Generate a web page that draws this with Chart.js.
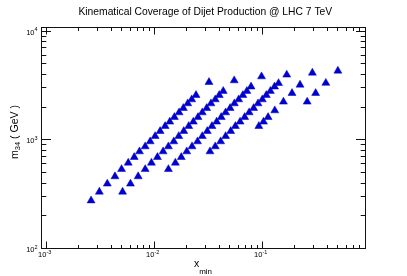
<!DOCTYPE html>
<html>
<head>
<meta charset="utf-8">
<script src="https://cdn.jsdelivr.net/npm/chart.js@4.4.1/dist/chart.umd.min.js"></script>
<style>
  html, body { margin: 0; padding: 0; background: #fff; }
  #wrap { width: 407px; height: 276px; }
</style>
</head>
<body>
<div id="wrap"><canvas id="chart" width="407" height="276"></canvas></div>
<script>
// chart text
const chartTitle = "Kinematical Coverage of Dijet Production @ LHC 7 TeV";
const xTitle = ["x", "min"];
const yTitle = ["m", "34", " ( GeV )"];

// axis decades and their exponents (tick labels)
const xDecades = [0.001, 0.01, 0.1];
const xExponents = ["-3", "-2", "-1"];
const yDecades = [100, 1000, 10000];
const yExponents = ["2", "3", "4"];

// series: x_min and dijet mass (GeV)
const xBin1 = [0.00259, 0.00309, 0.00366, 0.00431, 0.00496, 0.00572, 0.0065, 0.00727, 0.00821, 0.00913, 0.01015,
  0.01129, 0.01256, 0.01387, 0.0153, 0.01691, 0.01853, 0.02034, 0.02214, 0.02427, 0.032];
const mBin1 = [276, 332, 394, 460, 536, 614, 692, 780, 868, 965, 1079,
  1200, 1334, 1464, 1614, 1783, 1953, 2158, 2348, 2573, 3388];

const xBin2 = [0.00507, 0.006, 0.00707, 0.00821, 0.00938, 0.01066, 0.01203, 0.01347, 0.01511, 0.0168, 0.01869,
  0.02078, 0.02291, 0.02532, 0.02774, 0.03046, 0.03338, 0.03658, 0.03982, 0.04335, 0.05478];
const mBin2 = [332, 394, 460, 536, 614, 692, 780, 868, 965, 1079, 1200,
  1334, 1464, 1614, 1783, 1953, 2158, 2348, 2573, 2805, 3513];

const xBin3 = [0.01347, 0.01563, 0.01772, 0.01992, 0.02229, 0.02506, 0.02774, 0.03085, 0.03409, 0.03768,
  0.04155, 0.04563, 0.0502, 0.055, 0.06026, 0.0659, 0.07174, 0.07845, 0.09806];
const mBin3 = [536, 614, 692, 780, 868, 965, 1079, 1200, 1334, 1464,
  1614, 1783, 1953, 2158, 2348, 2573, 2805, 3080, 3823];

const xBin4 = [0.03268, 0.03658, 0.04102, 0.04563, 0.05085, 0.05618, 0.06209, 0.06847, 0.07534,
  0.08292, 0.09104, 0.09975, 0.1086, 0.1185, 0.1295, 0.141, 0.1679];
const mBin4 = [780, 868, 965, 1079, 1200, 1334, 1464, 1614, 1783,
  1953, 2158, 2348, 2573, 2805, 3080, 3316, 3963];

const xBin5 = [0.0926, 0.1023, 0.1128, 0.1301, 0.1565, 0.1879, 0.2228, 0.29];
const mBin5 = [1334, 1464, 1614, 1860, 2237, 2684, 3206, 4134];

const xBin6 = [0.2596, 0.3109, 0.3863, 0.4995];
const mBin6 = [2237, 2684, 3331, 4313];

const allX = [xBin1, xBin2, xBin3, xBin4, xBin5, xBin6];
const allM = [mBin1, mBin2, mBin3, mBin4, mBin5, mBin6];

const FONT = "'Liberation Sans', Arial, Helvetica, sans-serif";
const MARKER = "#0000cc";

function toPoints(xs, ms) {
  return xs.map((v, i) => ({ x: v, y: ms[i] }));
}

// minor ticks 2..9 inside each decade, kept within the axis range
function logTicks(min, max) {
  const out = [];
  for (let e = Math.floor(Math.log10(min)); e <= Math.ceil(Math.log10(max)); e++) {
    for (let k = 1; k <= 9; k++) {
      const v = k * Math.pow(10, e);
      if (v >= min * 0.9999 && v <= max * 1.0001) out.push({ v: v, major: k === 1 });
    }
  }
  return out;
}

// frame, inward ticks, labels and titles, drawn with the chart's scales
const rootFrame = {
  id: "rootFrame",
  afterDraw(chart) {
    const { ctx, chartArea: a, scales } = chart;
    const xs = scales.x, ys = scales.y;
    ctx.save();
    ctx.strokeStyle = "#111";
    ctx.lineWidth = 1;
    ctx.strokeRect(a.left, a.top, a.right - a.left, a.bottom - a.top);

    ctx.beginPath();
    logTicks(xs.min, xs.max).forEach(t => {
      const px = Math.round(xs.getPixelForValue(t.v) - 0.5) + 0.5;
      const len = t.major ? 7 : 3.5;
      ctx.moveTo(px, a.bottom); ctx.lineTo(px, a.bottom - len);
      ctx.moveTo(px, a.top); ctx.lineTo(px, a.top + len);
    });
    logTicks(ys.min, ys.max).forEach(t => {
      const py = Math.round(ys.getPixelForValue(t.v) - 0.5) + 0.5;
      const len = t.major ? 9.5 : 4.8;
      ctx.moveTo(a.left, py); ctx.lineTo(a.left + len, py);
      ctx.moveTo(a.right, py); ctx.lineTo(a.right - len, py);
    });
    ctx.stroke();

    ctx.fillStyle = "#000";
    // x tick labels 10^n
    xDecades.forEach((v, i) => {
      const px = xs.getPixelForValue(v);
      ctx.font = "7.5px " + FONT;
      ctx.textAlign = "right";
      ctx.fillText("10", px, 257);
      ctx.font = "5.5px " + FONT;
      ctx.textAlign = "left";
      ctx.fillText(xExponents[i], px, 253.5);
    });
    // y tick labels 10^n
    yDecades.forEach((v, i) => {
      const py = ys.getPixelForValue(v);
      ctx.font = "7.5px " + FONT;
      ctx.textAlign = "right";
      ctx.fillText("10", 34.5, py + 3.4);
      ctx.font = "5.5px " + FONT;
      ctx.textAlign = "left";
      ctx.fillText(yExponents[i], 34.5, py);
    });

    // main title
    ctx.font = "10.3px " + FONT;
    ctx.textAlign = "center";
    ctx.fillText(chartTitle, 205.3, 14.7);

    // x axis title with subscript
    ctx.textAlign = "left";
    ctx.font = "10.5px " + FONT;
    const wx = ctx.measureText(xTitle[0]).width;
    ctx.font = "8px " + FONT;
    const wsub = ctx.measureText(xTitle[1]).width;
    const x0 = 203 - (wx + wsub) / 2;
    ctx.font = "10.5px " + FONT;
    ctx.fillText(xTitle[0], x0, 267.3);
    ctx.font = "8px " + FONT;
    ctx.fillText(xTitle[1], x0 + wx, 273.5);

    // y axis title, rotated, with subscript
    ctx.save();
    ctx.translate(17.5, 132);
    ctx.rotate(-Math.PI / 2);
    ctx.font = "10.5px " + FONT;
    const wm = ctx.measureText(yTitle[0]).width;
    const wr = ctx.measureText(yTitle[2]).width;
    ctx.font = "7.5px " + FONT;
    const ws = ctx.measureText(yTitle[1]).width;
    let s = -(wm + ws + wr) / 2;
    ctx.font = "10.5px " + FONT;
    ctx.fillText(yTitle[0], s, 0);
    ctx.font = "7.5px " + FONT;
    ctx.fillText(yTitle[1], s + wm, 2.6);
    ctx.font = "10.5px " + FONT;
    ctx.fillText(yTitle[2], s + wm + ws, 0);
    ctx.restore();

    ctx.restore();
  }
};

const datasets = allX.map((xs, i) => ({
  label: "bin " + (i + 1),
  data: toPoints(xs, allM[i]),
  pointStyle: "triangle",
  pointRadius: 4.6,
  pointHoverRadius: 4.6,
  pointBackgroundColor: MARKER,
  pointBorderColor: MARKER,
  pointBorderWidth: 0.5,
  showLine: false
}));

new Chart(document.getElementById("chart").getContext("2d"), {
  type: "scatter",
  data: { datasets: datasets },
  options: {
    responsive: false,
    animation: false,
    devicePixelRatio: 1,
    layout: { padding: { left: 41.5, right: 41.5, top: 27.5, bottom: 27.5 } },
    plugins: {
      legend: { display: false },
      tooltip: { enabled: false },
      title: { display: false }
    },
    scales: {
      x: { type: "logarithmic", min: 0.0009, max: 0.9, display: false },
      y: { type: "logarithmic", min: 100, max: 10800, display: false }
    }
  },
  plugins: [rootFrame]
});
</script>
</body>
</html>
